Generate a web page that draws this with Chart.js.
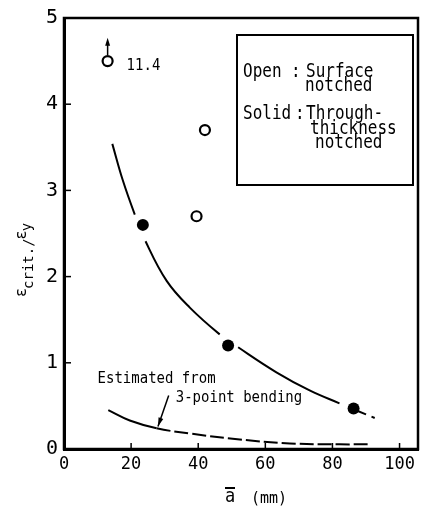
<!DOCTYPE html>
<html>
<head>
<meta charset="utf-8">
<script src="https://cdn.jsdelivr.net/npm/chart.js@4"></script>
<style>
  body { margin: 0; background: #fff; }
  canvas { display: block; }
</style>
</head>
<body>
<canvas id="critChart" width="422" height="507"></canvas>
<script>
// open circles: surface notched
const openX = [13, 39.5, 42];
const openY = [4.5, 2.7, 3.7];
// solid circles: through-thickness notched
const solidX = [23.5, 48.9, 86.3];
const solidY = [2.6, 1.2, 0.47];
// fitted curve through the solid points
const fitX = [14.4, 17.5, 21.1, 24.3, 30.6, 37.5, 46.4, 51.9, 63.3, 73.2, 82.1, 87, 92.6];
const fitY = [3.54, 3.12, 2.72, 2.41, 1.95, 1.64, 1.33, 1.18, 0.89, 0.68, 0.53, 0.45, 0.36];
// estimated from 3-point bending
const bendX = [13.2, 19.6, 27.6, 37.5, 52.4, 67.3, 82.1, 90.6];
const bendY = [0.45, 0.33, 0.24, 0.18, 0.11, 0.065, 0.054, 0.055];
// ticks
const xTicks = [0, 20, 40, 60, 80, 100];
const yTicks = [0, 1, 2, 3, 4, 5];
// the open point at 13 really is 11.4, off scale
const offScale = { x: 13, y: 4.5, top: 4.77, label: "11.4" };
const bendNote = { x: 10, y1: 0.76, y2: 0.55, x2: 33.3, fromX: 31.2, fromY: 0.62, toX: 28, toY: 0.26 };

const FONT = "'DejaVu Sans Mono', monospace";

function pts(xs, ys) {
  return xs.map((x, i) => ({ x: x, y: ys[i] }));
}

function tallText(ctx, txt, x, y, sy) {
  ctx.save();
  ctx.translate(x, y);
  ctx.scale(1, sy);
  ctx.fillText(txt, 0, 0);
  ctx.restore();
}

function arrowHead(ctx, x1, y1, x2, y2, len, wid) {
  const a = Math.atan2(y2 - y1, x2 - x1);
  ctx.beginPath();
  ctx.moveTo(x2, y2);
  ctx.lineTo(x2 - len * Math.cos(a) + wid * Math.sin(a), y2 - len * Math.sin(a) - wid * Math.cos(a));
  ctx.lineTo(x2 - len * Math.cos(a) - wid * Math.sin(a), y2 - len * Math.sin(a) + wid * Math.cos(a));
  ctx.closePath();
  ctx.fill();
}

const decorations = {
  id: "decorations",
  afterDraw(chart) {
    const ctx = chart.ctx;
    const area = chart.chartArea;
    const xs = chart.scales.x;
    const ys = chart.scales.y;
    ctx.save();
    ctx.strokeStyle = "#000";
    ctx.fillStyle = "#000";

    // frame
    ctx.lineWidth = 2.5;
    ctx.strokeRect(area.left, area.top, area.right - area.left, area.bottom - area.top);

    // inward ticks
    ctx.lineWidth = 1.5;
    xTicks.forEach(v => {
      if (v === 0) return;
      const px = xs.getPixelForValue(v);
      ctx.beginPath();
      ctx.moveTo(px, area.bottom);
      ctx.lineTo(px, area.bottom - 6);
      ctx.stroke();
    });
    yTicks.forEach(v => {
      if (v === 0 || v === 5) return;
      const py = ys.getPixelForValue(v);
      ctx.beginPath();
      ctx.moveTo(area.left, py);
      ctx.lineTo(area.left + 7, py);
      ctx.stroke();
    });

    // legend box
    const bx = area.right - 181, by = area.top + 17;
    ctx.lineWidth = 2;
    ctx.strokeRect(bx, by, 176, 150);
    ctx.font = "16px " + FONT;
    ctx.textBaseline = "alphabetic";
    ctx.textAlign = "left";
    tallText(ctx, "Open", bx + 6, by + 42, 1.18);
    tallText(ctx, ":", bx + 54, by + 42, 1.18);
    tallText(ctx, "Surface", bx + 69, by + 42, 1.18);
    tallText(ctx, "notched", bx + 68, by + 56, 1.18);
    tallText(ctx, "Solid", bx + 6, by + 84, 1.18);
    tallText(ctx, ":", bx + 58, by + 84, 1.18);
    tallText(ctx, "Through-", bx + 69, by + 84, 1.18);
    tallText(ctx, "thickness", bx + 73, by + 99, 1.18);
    tallText(ctx, "notched", bx + 78, by + 113, 1.18);

    // off-scale point arrow and label
    const ox = xs.getPixelForValue(offScale.x);
    const oy = ys.getPixelForValue(offScale.y);
    const ot = ys.getPixelForValue(offScale.top);
    ctx.lineWidth = 1.5;
    ctx.beginPath();
    ctx.moveTo(ox, oy - 6);
    ctx.lineTo(ox, ot + 4);
    ctx.stroke();
    arrowHead(ctx, ox, oy, ox, ot, 8, 2.5);
    ctx.font = "14px " + FONT;
    tallText(ctx, offScale.label, ox + 19, oy + 9, 1.1);

    // bending note
    ctx.font = "14px " + FONT;
    tallText(ctx, "Estimated from", xs.getPixelForValue(bendNote.x), ys.getPixelForValue(bendNote.y1), 1.12);
    tallText(ctx, "3-point bending", xs.getPixelForValue(bendNote.x2), ys.getPixelForValue(bendNote.y2), 1.12);
    const fx = xs.getPixelForValue(bendNote.fromX), fy = ys.getPixelForValue(bendNote.fromY);
    const tx = xs.getPixelForValue(bendNote.toX), ty = ys.getPixelForValue(bendNote.toY);
    ctx.lineWidth = 1.5;
    ctx.beginPath();
    ctx.moveTo(fx, fy);
    ctx.lineTo(tx, ty);
    ctx.stroke();
    arrowHead(ctx, fx, fy, tx, ty, 9, 2.5);

    // y axis title, reads bottom to top
    ctx.save();
    ctx.translate(26, 297);
    ctx.rotate(-Math.PI / 2);
    let cx = 0;
    ctx.font = "15px " + FONT;
    ctx.fillText("\u03b5", cx, 0); cx += ctx.measureText("\u03b5").width - 1;
    ctx.font = "14px " + FONT;
    ctx.fillText("crit./", cx, 7); cx += ctx.measureText("crit./").width - 1;
    ctx.font = "15px " + FONT;
    ctx.fillText("\u03b5", cx, 0); cx += ctx.measureText("\u03b5").width - 1;
    ctx.font = "14px " + FONT;
    ctx.fillText("y", cx, 5);
    ctx.restore();

    // x axis title
    ctx.font = "17px " + FONT;
    tallText(ctx, "a", 225, 502, 1.1);
    ctx.lineWidth = 2;
    ctx.beginPath();
    ctx.moveTo(225, 488);
    ctx.lineTo(235, 488);
    ctx.stroke();
    ctx.font = "15px " + FONT;
    tallText(ctx, "(mm)", 251, 503, 1.1);

    ctx.restore();
  }
};

new Chart(document.getElementById("critChart"), {
  type: "scatter",
  data: {
    datasets: [
      {
        label: "Surface notched",
        data: pts(openX, openY),
        order: 0,
        pointStyle: "circle",
        pointRadius: 5,
        pointBackgroundColor: "#fff",
        pointBorderColor: "#000",
        pointBorderWidth: 2.2,
        showLine: false
      },
      {
        label: "Through-thickness notched",
        data: pts(solidX, solidY),
        order: 0,
        pointStyle: "circle",
        pointRadius: 6,
        pointBackgroundColor: "#000",
        pointBorderColor: "#000",
        pointBorderWidth: 0,
        showLine: false
      },
      {
        label: "fit",
        data: pts(fitX, fitY),
        order: 1,
        showLine: true,
        pointRadius: 0,
        borderColor: "#000",
        borderWidth: 2,
        tension: 0.4,
        segment: {
          // break the curve where it runs into a solid point
          borderColor: c => solidX.some(sx => sx > c.p0.parsed.x && sx < c.p1.parsed.x) ? "rgba(0,0,0,0)" : "#000",
          borderDash: c => c.p0.parsed.x >= 86 ? [11, 6] : undefined
        }
      },
      {
        label: "3-point bending",
        data: pts(bendX, bendY),
        order: 1,
        showLine: true,
        pointRadius: 0,
        borderColor: "#000",
        borderWidth: 2,
        tension: 0.4,
        segment: {
          borderDash: c => c.p0.parsed.x >= 27 ? [14, 4] : undefined
        }
      }
    ]
  },
  options: {
    responsive: false,
    animation: false,
    devicePixelRatio: 1,
    layout: { autoPadding: false, padding: { left: 34, right: 4, top: 15, bottom: 0 } },
    plugins: {
      legend: { display: false },
      tooltip: { enabled: false }
    },
    scales: {
      x: {
        type: "linear",
        min: 0,
        max: 105.5,
        grid: { display: false, drawTicks: false },
        border: { display: true, color: "#000", width: 3 },
        afterBuildTicks: s => { s.ticks = xTicks.map(v => ({ value: v })); },
        afterFit: s => { s.height = 58; },
        ticks: {
          color: "#000",
          padding: 5,
          maxRotation: 0,
          font: { family: FONT, size: 17 }
        }
      },
      y: {
        type: "linear",
        min: 0,
        max: 5,
        grid: { display: false, drawTicks: false },
        border: { display: true, color: "#000", width: 3 },
        afterBuildTicks: s => { s.ticks = yTicks.map(v => ({ value: v })); },
        afterFit: s => { s.width = 30; },
        ticks: {
          color: "#000",
          padding: 6,
          font: { family: FONT, size: 20 }
        }
      }
    }
  },
  plugins: [decorations]
});
</script>
</body>
</html>
